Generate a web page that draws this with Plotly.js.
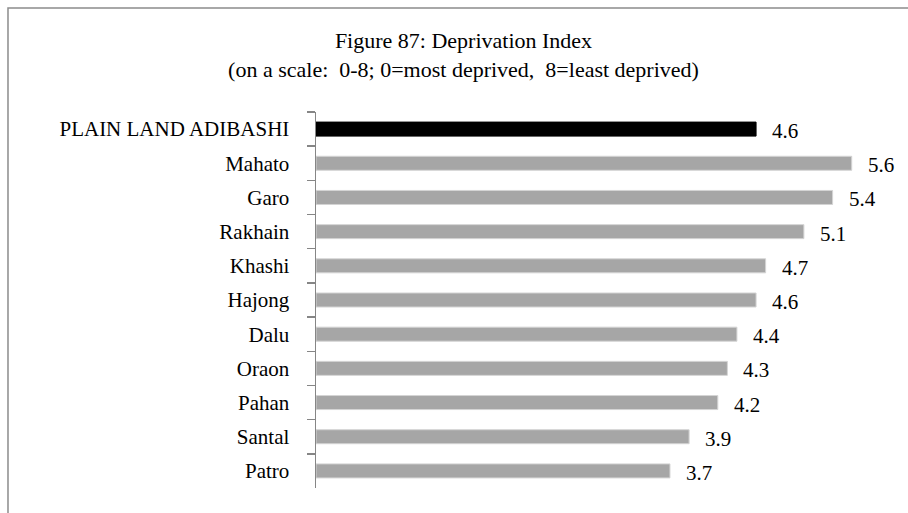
<!DOCTYPE html>
<html>
<head>
<meta charset="utf-8">
<script src="https://cdn.plot.ly/plotly-3.0.1.min.js"></script>
<style>
  html, body { margin: 0; padding: 0; background: #fff; }
  #chart { width: 908px; height: 513px; }
</style>
</head>
<body>
<div id="chart"></div>
<script>
// Data (top to bottom as shown)
const categories = ["PLAIN LAND ADIBASHI", "Mahato", "Garo", "Rakhain", "Khashi", "Hajong", "Dalu", "Oraon", "Pahan", "Santal", "Patro"];
const values = [4.6, 5.6, 5.4, 5.1, 4.7, 4.6, 4.4, 4.3, 4.2, 3.9, 3.7];
const valueLabels = ["4.6", "5.6", "5.4", "5.1", "4.7", "4.6", "4.4", "4.3", "4.2", "3.9", "3.7"];
const highlightCategory = "PLAIN LAND ADIBASHI";

const barColors = categories.map(c => c === highlightCategory ? "#000000" : "#a6a6a6");
const lineColors = categories.map(c => c === highlightCategory ? "#000000" : "#d4d4d4");

const FONT = "Liberation Serif, serif";

const trace = {
  type: "bar",
  orientation: "h",
  x: values,
  y: categories,
  width: 0.41,
  marker: { color: barColors, line: { color: lineColors, width: 1 } },
  hoverinfo: "none"
};

const annotations = values.map((v, i) => ({
  x: v, y: categories[i], xref: "x", yref: "y",
  text: valueLabels[i], showarrow: false,
  xanchor: "left", yanchor: "middle", xshift: 14, yshift: -2,
  font: { family: FONT, size: 21, color: "#000" }
}));

const layout = {
  width: 908, height: 513,
  margin: { l: 316, r: 18, t: 112, b: 25 },
  paper_bgcolor: "#ffffff", plot_bgcolor: "#ffffff",
  font: { family: FONT, color: "#000" },
  showlegend: false,
  title: {
    text: "Figure 87: Deprivation Index<br>(on a scale:\u00a0 0-8; 0=most deprived,\u00a0 8=least deprived)",
    font: { family: FONT, size: 22, color: "#000" },
    x: 463.5 / 908, xref: "container", xanchor: "center",
    y: 1 - 48 / 513, yref: "container", yanchor: "top"
  },
  xaxis: {
    range: [0, 6], visible: false, showgrid: false, zeroline: false, fixedrange: true
  },
  yaxis: {
    type: "category", autorange: "reversed",
    showline: true, linecolor: "#868686", linewidth: 1.5,
    ticks: "outside", tickson: "boundaries", ticklen: 8, tickcolor: "#868686", tickwidth: 1.5,
    ticklabelstandoff: 21,
    tickfont: { family: FONT, size: 21, color: "#000" },
    showgrid: false, zeroline: false, fixedrange: true
  },
  annotations: annotations,
  shapes: [{
    type: "path", xref: "paper", yref: "paper",
    path: "M 3,1.2766 L -0.5366,1.2766 L -0.5366,-1",
    line: { color: "#8c8c8c", width: 1.5 }
  }]
};

Plotly.newPlot("chart", [trace], layout, { displayModeBar: false, staticPlot: true });
</script>
</body>
</html>
